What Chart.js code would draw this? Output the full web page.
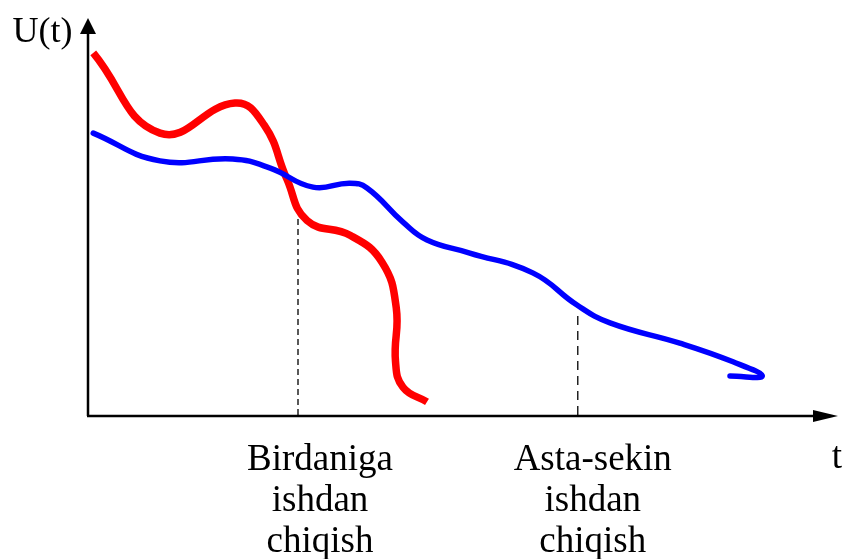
<!DOCTYPE html>
<html>
<head>
<meta charset="utf-8">
<script src="https://cdn.jsdelivr.net/npm/chart.js@4.4.1/dist/chart.umd.min.js"></script>
<style>
  html, body { margin: 0; padding: 0; background: #fff; }
  #wrap { width: 843px; height: 559px; position: relative; }
</style>
</head>
<body>
<div id="wrap"><canvas id="uChart"></canvas></div>
<script>
// curves (t, U) - t and U both on a 0..10 scale
var redT  = [0.07, 0.96, 1.96, 2.35, 2.65, 2.92, 3.50, 3.92, 4.11, 4.10, 4.20, 4.52];
var redU  = [9.12, 7.10, 7.86, 7.30, 5.95, 4.90, 4.52, 3.85, 2.70, 1.35, 0.70, 0.33];

var blueT = [0.07, 0.96, 1.93, 2.43, 3.00, 3.49, 3.72, 4.20, 4.52, 5.09, 5.93, 6.52, 6.96, 7.89, 8.60, 8.99, 8.56];
var blueU = [7.10, 6.40, 6.45, 6.22, 5.74, 5.84, 5.72, 4.86, 4.41, 4.08, 3.58, 2.77, 2.32, 1.81, 1.34, 0.98, 0.98];

// failure moments (dashed markers)
var failT = [2.80, 6.53];
var failU = [4.96, 2.57];

var failLabels = [
  ['Birdaniga', 'ishdan', 'chiqish'],
  ['Asta-sekin', 'ishdan', 'chiqish']
];
var yTitle = 'U(t)';
var xTitle = 't';

function toPoints(xs, ys) {
  return xs.map(function (x, i) { return { x: x, y: ys[i] }; });
}

var datasets = [
  {
    data: toPoints(blueT, blueU),
    borderColor: '#0000ff',
    borderWidth: 5.5,
    borderCapStyle: 'round',
    tension: 0.45
  },
  {
    data: toPoints(redT, redU),
    borderColor: '#ff0000',
    borderWidth: 7.5,
    borderCapStyle: 'butt',
    tension: 0.45
  }
];
failT.forEach(function (t, i) {
  datasets.push({
    data: [{ x: t, y: 0 }, { x: t, y: failU[i] }],
    borderColor: '#222222',
    borderWidth: 1.5,
    borderDash: i === 0 ? [6, 4] : [9, 6],
    tension: 0
  });
});

// axes with arrows + texts
var sketchAxes = {
  id: 'sketchAxes',
  afterDraw: function (chart) {
    var c = chart.ctx;
    var xs = chart.scales.x, ys = chart.scales.y;
    var x0 = xs.getPixelForValue(0), y0 = ys.getPixelForValue(0);
    var xEnd = xs.getPixelForValue(10), yEnd = ys.getPixelForValue(10);
    c.save();
    c.strokeStyle = '#000';
    c.fillStyle = '#000';
    c.lineWidth = 2.5;
    c.beginPath();
    c.moveTo(x0, y0 + 1);
    c.lineTo(x0, yEnd + 12);
    c.moveTo(x0 - 1, y0 + 1);
    c.lineTo(xEnd - 20, y0 + 1);
    c.stroke();
    // arrow heads
    c.beginPath();
    c.moveTo(x0, yEnd);
    c.lineTo(x0 - 8, yEnd + 16);
    c.lineTo(x0 + 8, yEnd + 16);
    c.closePath();
    c.fill();
    c.beginPath();
    c.moveTo(xEnd, y0 + 1);
    c.lineTo(xEnd - 25, y0 - 5);
    c.lineTo(xEnd - 25, y0 + 7);
    c.closePath();
    c.fill();

    c.font = '36px "Liberation Serif", "Times New Roman", serif';
    c.textAlign = 'center';
    c.textBaseline = 'alphabetic';
    c.fillText(yTitle, 42.5, 42);
    c.font = '37px "Liberation Serif", "Times New Roman", serif';
    c.fillText(xTitle, 837, 468);
    failLabels.forEach(function (lines, i) {
      var cx = xs.getPixelForValue(failT[i]) + (i === 0 ? 22 : 15);
      lines.forEach(function (s, k) {
        c.fillText(s, cx, 470 + k * 41);
      });
    });
    c.restore();
  }
};

new Chart(document.getElementById('uChart'), {
  type: 'scatter',
  data: { datasets: datasets },
  options: {
    responsive: true,
    maintainAspectRatio: false,
    animation: false,
    layout: { padding: { left: 88, right: 5, top: 18, bottom: 144 } },
    elements: { point: { radius: 0, hoverRadius: 0 } },
    datasets: { scatter: { showLine: true, clip: false } },
    scales: {
      x: { type: 'linear', min: 0, max: 10, display: false },
      y: { type: 'linear', min: 0, max: 10, display: false }
    },
    plugins: {
      legend: { display: false },
      tooltip: { enabled: false },
      title: { display: false }
    }
  },
  plugins: [sketchAxes]
});
</script>
</body>
</html>
